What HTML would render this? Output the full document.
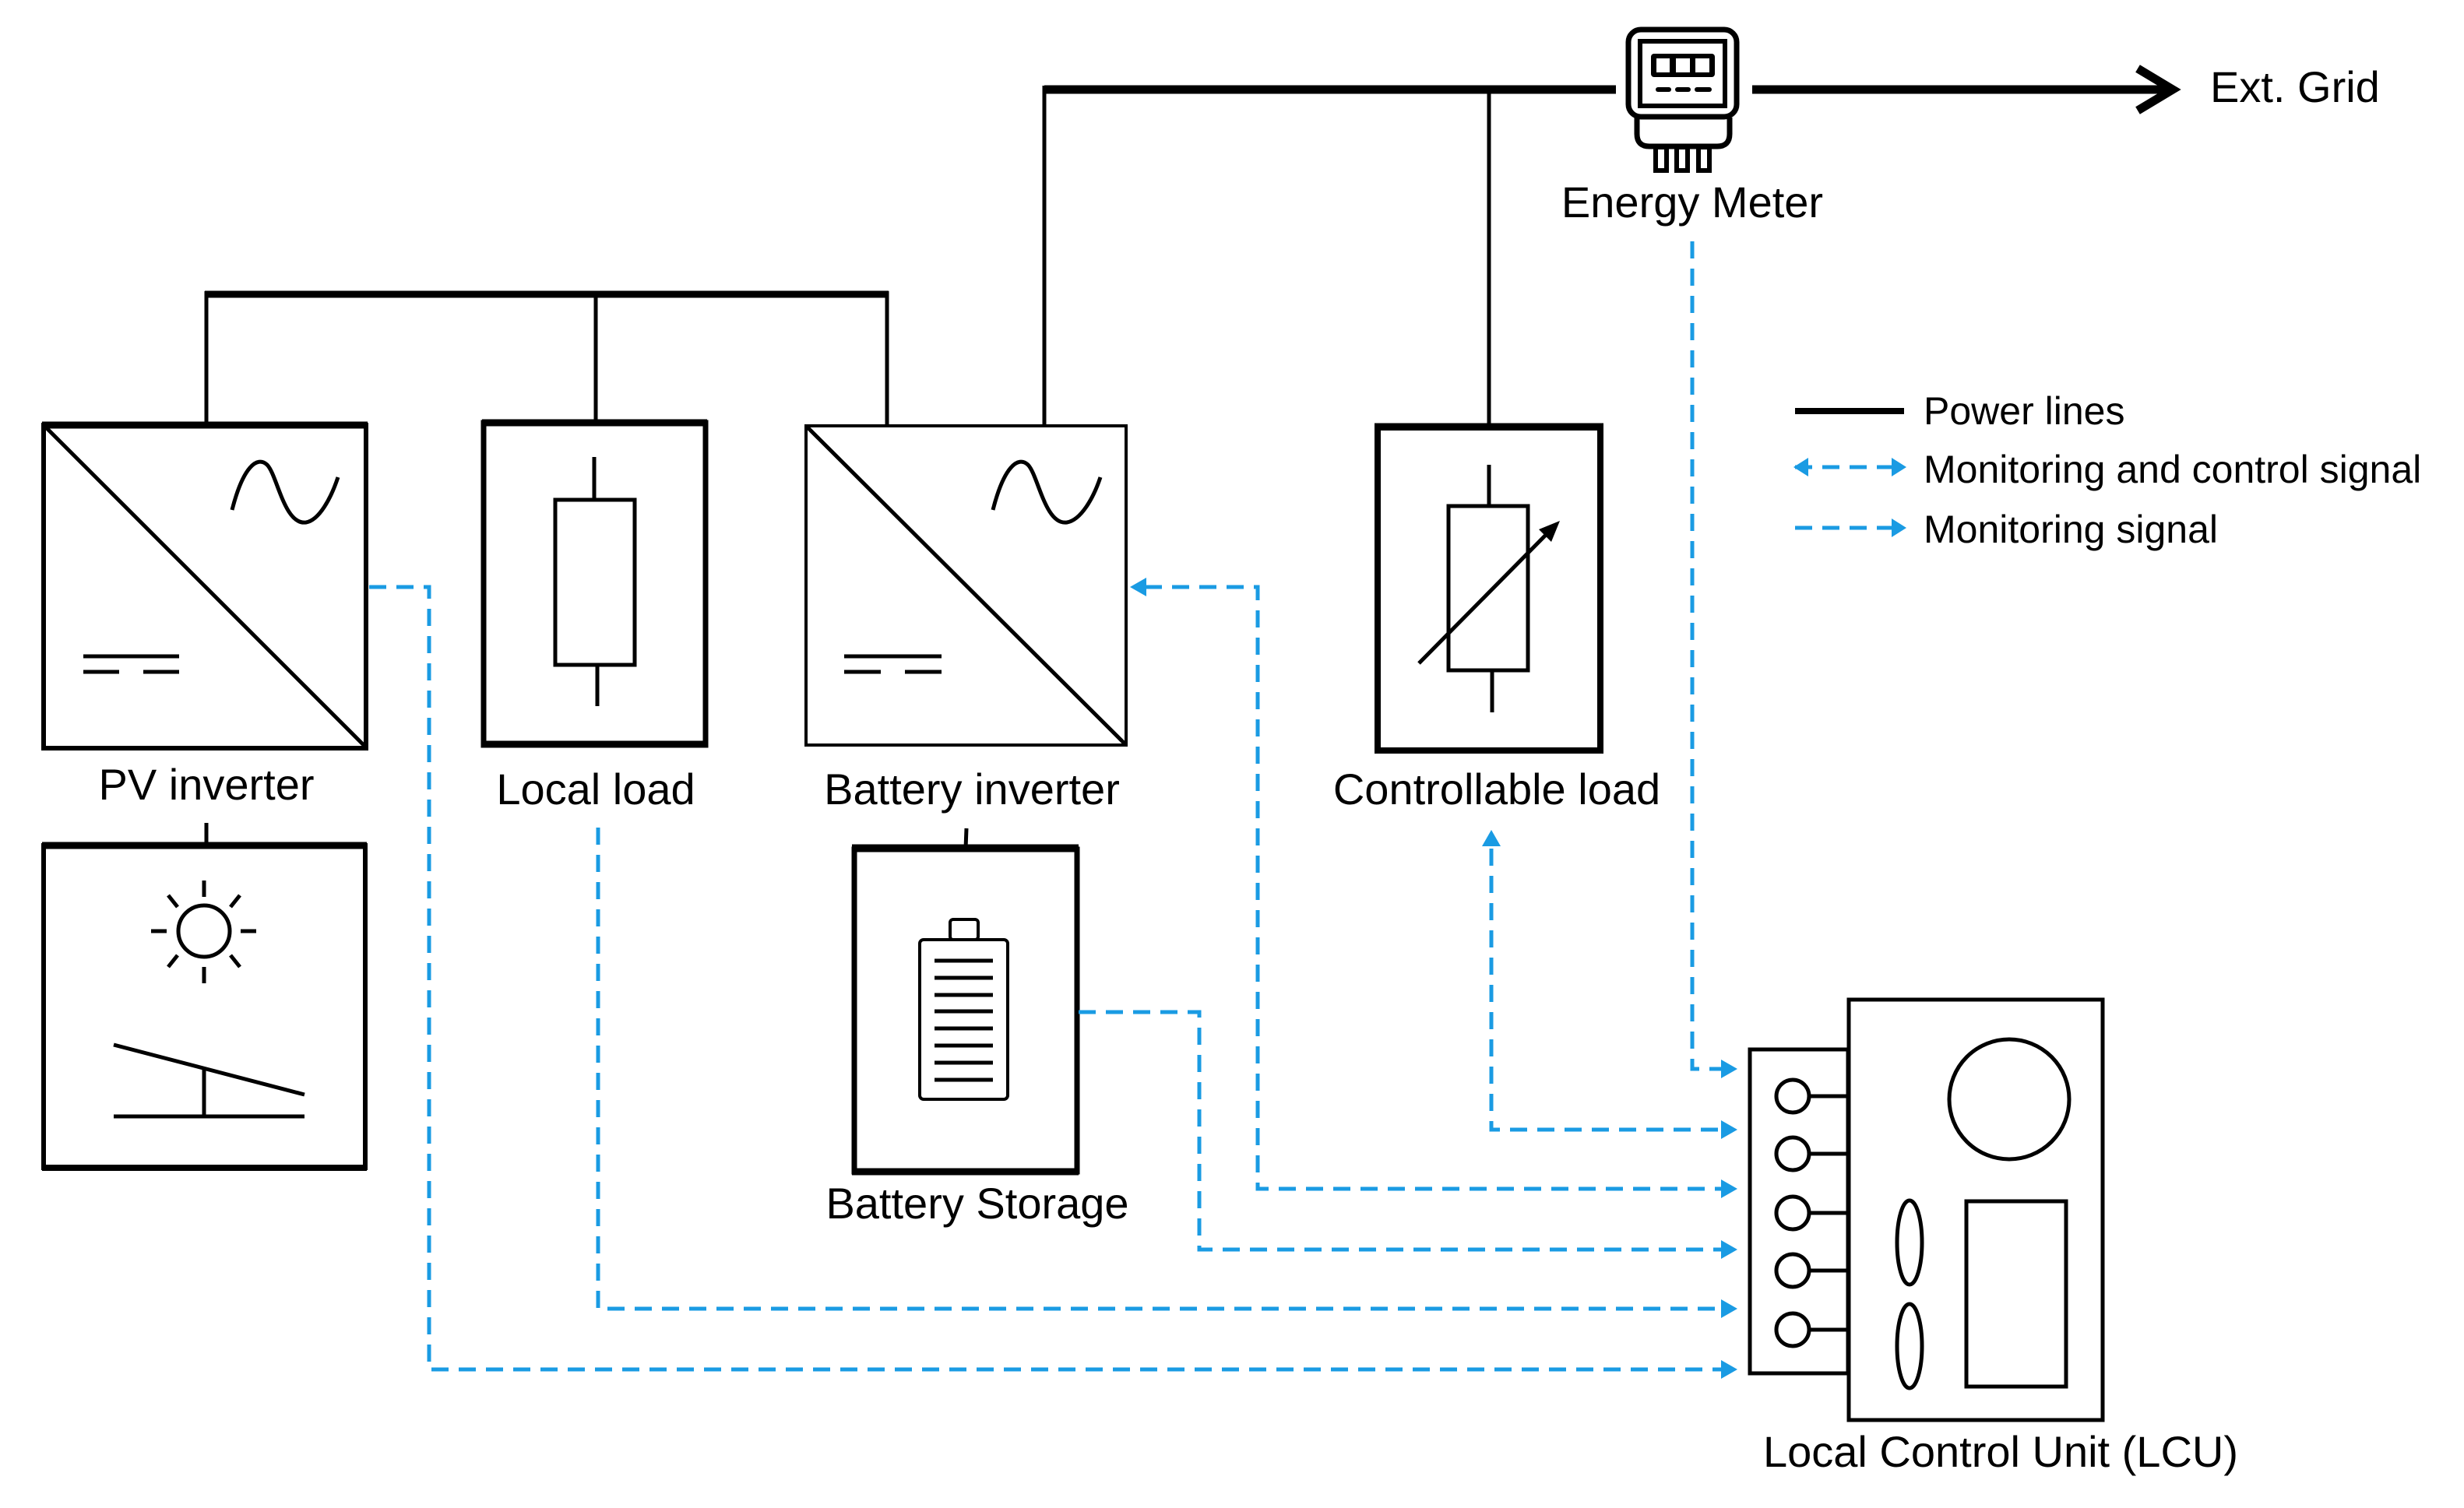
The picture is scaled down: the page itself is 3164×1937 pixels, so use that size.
<!DOCTYPE html>
<html><head><meta charset="utf-8"><style>
html,body{margin:0;padding:0;background:#fff}
svg{display:block}
text{font-family:"Liberation Sans",Arial,sans-serif;fill:#000}
</style></head><body>
<svg width="3164" height="1937" viewBox="0 0 3164 1937" xmlns="http://www.w3.org/2000/svg">
<defs>
<marker id="ah" markerWidth="6" markerHeight="6" refX="5" refY="3" orient="auto" markerUnits="userSpaceOnUse"></marker>
</defs>
<g stroke="#000" fill="none" stroke-linecap="butt">
<!-- top power line -->
<line x1="1341" y1="115" x2="2075" y2="115" stroke-width="11"/>
<line x1="2250" y1="115" x2="2785" y2="115" stroke-width="11"/>
<polyline points="2745,88 2790,115 2745,142" stroke-width="11" stroke-linejoin="miter"/>
<line x1="1341" y1="110" x2="1341" y2="547" stroke-width="5"/>
<line x1="1912" y1="115" x2="1912" y2="547" stroke-width="5"/>
<!-- bus -->
<line x1="263" y1="378" x2="1141" y2="378" stroke-width="9"/>
<line x1="265" y1="374" x2="265" y2="546" stroke-width="5"/>
<line x1="765" y1="374" x2="765" y2="542" stroke-width="5"/>
<line x1="1139" y1="374" x2="1139" y2="547" stroke-width="5"/>

<!-- PV inverter -->
<rect x="56" y="546" width="414" height="415" stroke-width="6"/>
<line x1="54" y1="546" x2="472" y2="546" stroke-width="9"/>
<line x1="58" y1="548" x2="470" y2="960" stroke-width="5"/>
<path d="M298,655 C312,600 330,585 343,597 C356,610 365,675 393,671 C410,668 425,640 434,613" stroke-width="5"/>
<line x1="107" y1="843" x2="230" y2="843" stroke-width="5"/>
<line x1="107" y1="863" x2="153" y2="863" stroke-width="5"/>
<line x1="184" y1="863" x2="230" y2="863" stroke-width="5"/>

<!-- Local load -->
<rect x="621" y="543" width="285" height="414" stroke-width="7"/>
<line x1="619" y1="543" x2="908" y2="543" stroke-width="9"/>
<line x1="619" y1="956" x2="908" y2="956" stroke-width="9"/>
<rect x="713" y="642" width="102" height="212" stroke-width="5"/>
<line x1="763" y1="587" x2="763" y2="642" stroke-width="5"/>
<line x1="767" y1="854" x2="767" y2="907" stroke-width="5"/>

<!-- Battery inverter -->
<rect x="1035" y="547" width="411" height="410" stroke-width="4"/>
<line x1="1037" y1="549" x2="1444" y2="955" stroke-width="5"/>
<path d="M1275,655 C1289,600 1307,585 1320,597 C1333,610 1342,675 1370,671 C1388,668 1404,640 1413,613" stroke-width="5"/>
<line x1="1084" y1="843" x2="1209" y2="843" stroke-width="5"/>
<line x1="1084" y1="863" x2="1131" y2="863" stroke-width="5"/>
<line x1="1162" y1="863" x2="1209" y2="863" stroke-width="5"/>

<!-- Controllable load -->
<rect x="1769" y="549" width="286" height="415" stroke-width="8"/>
<line x1="1765" y1="548" x2="2059" y2="548" stroke-width="9"/>
<rect x="1860" y="650" width="102" height="211" stroke-width="5"/>
<line x1="1912" y1="597" x2="1912" y2="650" stroke-width="5"/>
<line x1="1916" y1="861" x2="1916" y2="915" stroke-width="5"/>
<line x1="1822" y1="852" x2="1990" y2="682" stroke-width="5"/>
</g>
<polygon points="2003,669 1976,680 1992,696" fill="#000"/>

<!-- Solar box -->
<g stroke="#000" fill="none">
<line x1="265" y1="1057" x2="265" y2="1086" stroke-width="5"/>
<rect x="56" y="1086" width="413" height="414" stroke-width="6"/>
<line x1="54" y1="1086" x2="471" y2="1086" stroke-width="9"/>
<line x1="54" y1="1500" x2="471" y2="1500" stroke-width="8"/>
<circle cx="262" cy="1196" r="33" stroke-width="5"/>
<line x1="262" y1="1131" x2="262" y2="1152" stroke-width="5"/>
<line x1="262" y1="1242" x2="262" y2="1263" stroke-width="5"/>
<line x1="194" y1="1196" x2="214" y2="1196" stroke-width="5"/>
<line x1="309" y1="1196" x2="329" y2="1196" stroke-width="5"/>
<line x1="216" y1="1150" x2="228" y2="1165" stroke-width="5"/>
<line x1="308" y1="1150" x2="296" y2="1165" stroke-width="5"/>
<line x1="216" y1="1242" x2="228" y2="1227" stroke-width="5"/>
<line x1="308" y1="1242" x2="296" y2="1227" stroke-width="5"/>
<line x1="146" y1="1342" x2="391" y2="1406" stroke-width="5"/>
<line x1="262" y1="1372" x2="262" y2="1434" stroke-width="5"/>
<line x1="146" y1="1434" x2="391" y2="1434" stroke-width="5"/>

<!-- Battery storage -->
<line x1="1241" y1="1064" x2="1240" y2="1090" stroke-width="5"/>
<rect x="1097" y="1091" width="286" height="414" stroke-width="7"/>
<line x1="1094" y1="1089" x2="1385" y2="1089" stroke-width="9"/>
<line x1="1094" y1="1505" x2="1385" y2="1505" stroke-width="9"/>
<rect x="1181" y="1207" width="113" height="205" rx="5" stroke-width="4"/>
<rect x="1220" y="1181" width="36" height="26" rx="4" stroke-width="4"/>
<g stroke-width="5">
<line x1="1200" y1="1234" x2="1275" y2="1234"/>
<line x1="1200" y1="1256" x2="1275" y2="1256"/>
<line x1="1200" y1="1278" x2="1275" y2="1278"/>
<line x1="1200" y1="1299" x2="1275" y2="1299"/>
<line x1="1200" y1="1321" x2="1275" y2="1321"/>
<line x1="1200" y1="1343" x2="1275" y2="1343"/>
<line x1="1200" y1="1365" x2="1275" y2="1365"/>
<line x1="1200" y1="1387" x2="1275" y2="1387"/>
</g>

<!-- Energy meter -->
<rect x="2091" y="38" width="139" height="112" rx="16" stroke-width="7"/>
<rect x="2106" y="53" width="109" height="83" stroke-width="6"/>
<path d="M2102,151 L2102,172 Q2102,188 2118,188 L2205,188 Q2221,188 2221,172 L2221,151" stroke-width="7"/>
<rect x="2126" y="189" width="14" height="30" stroke-width="6"/>
<rect x="2153" y="189" width="14" height="30" stroke-width="6"/>
<rect x="2181" y="189" width="14" height="30" stroke-width="6"/>
</g>
<rect x="2120" y="69" width="82" height="30" rx="4" fill="#000"/>
<rect x="2127" y="75" width="17" height="18" fill="#fff"/>
<rect x="2152" y="75" width="18" height="18" fill="#fff"/>
<rect x="2177" y="75" width="18" height="18" fill="#fff"/>
<g stroke="#000" stroke-width="6" stroke-linecap="round">
<line x1="2129" y1="115" x2="2143" y2="115"/>
<line x1="2154" y1="115" x2="2168" y2="115"/>
<line x1="2179" y1="115" x2="2195" y2="115"/>
</g>

<!-- LCU -->
<g stroke="#000" fill="none" stroke-width="5">
<rect x="2247" y="1348" width="126" height="416"/>
<rect x="2374" y="1284" width="326" height="540"/>
<circle cx="2302" cy="1408" r="21"/>
<circle cx="2302" cy="1482" r="21"/>
<circle cx="2302" cy="1558" r="21"/>
<circle cx="2302" cy="1632" r="21"/>
<circle cx="2302" cy="1708" r="21"/>
<line x1="2323" y1="1408" x2="2374" y2="1408"/>
<line x1="2323" y1="1482" x2="2374" y2="1482"/>
<line x1="2323" y1="1558" x2="2374" y2="1558"/>
<line x1="2323" y1="1632" x2="2374" y2="1632"/>
<line x1="2323" y1="1708" x2="2374" y2="1708"/>
<circle cx="2580" cy="1412" r="77"/>
<ellipse cx="2452" cy="1596" rx="16" ry="54"/>
<ellipse cx="2452" cy="1729" rx="16" ry="54"/>
<rect x="2525" y="1543" width="128" height="238"/>
</g>

<!-- blue dashed signals -->
<g stroke="#1a9be3" fill="none" stroke-width="5" stroke-dasharray="22 13">
<polyline points="474,754 551,754 551,1759 2210,1759"/>
<polyline points="768,1063 768,1681 2210,1681"/>
<polyline points="1385,1300 1540,1300 1540,1605 2210,1605"/>
<polyline points="1470,754 1615,754 1615,1527 2210,1527"/>
<polyline points="1915,1090 1915,1451 2210,1451"/>
<polyline points="2173,310 2173,1373 2210,1373"/>
<line x1="2305" y1="600" x2="2430" y2="600"/>
<line x1="2305" y1="678" x2="2430" y2="678"/>
</g>
<g fill="#1a9be3">
<polygon points="1451,754 1472,742 1472,766"/>
<polygon points="1915,1066 1903,1087 1927,1087"/>
<polygon points="2231,1373 2210,1361 2210,1385"/>
<polygon points="2231,1451 2210,1439 2210,1463"/>
<polygon points="2231,1527 2210,1515 2210,1539"/>
<polygon points="2231,1605 2210,1593 2210,1617"/>
<polygon points="2231,1681 2210,1669 2210,1693"/>
<polygon points="2231,1759 2210,1747 2210,1771"/>
<polygon points="2303,600 2322,588 2322,612"/>
<polygon points="2448,600 2429,588 2429,612"/>
<polygon points="2448,678 2429,666 2429,690"/>
</g>
<line x1="2305" y1="528" x2="2445" y2="528" stroke="#000" stroke-width="8"/>

<!-- labels -->
<g font-size="56">
<text x="2838" y="131">Ext. Grid</text>
<text x="2173" y="279" text-anchor="middle">Energy Meter</text>
<text x="265" y="1027" text-anchor="middle">PV inverter</text>
<text x="765" y="1033" text-anchor="middle">Local load</text>
<text x="1248" y="1033" text-anchor="middle">Battery inverter</text>
<text x="1922" y="1033" text-anchor="middle">Controllable load</text>
<text x="1255" y="1565" text-anchor="middle">Battery Storage</text>
<text x="2264" y="1884">Local Control Unit (LCU)</text>
</g>
<g font-size="50">
<text x="2470" y="545">Power lines</text>
<text x="2470" y="620">Monitoring and control signal</text>
<text x="2470" y="697">Monitoring signal</text>
</g>
</svg>
</body></html>
